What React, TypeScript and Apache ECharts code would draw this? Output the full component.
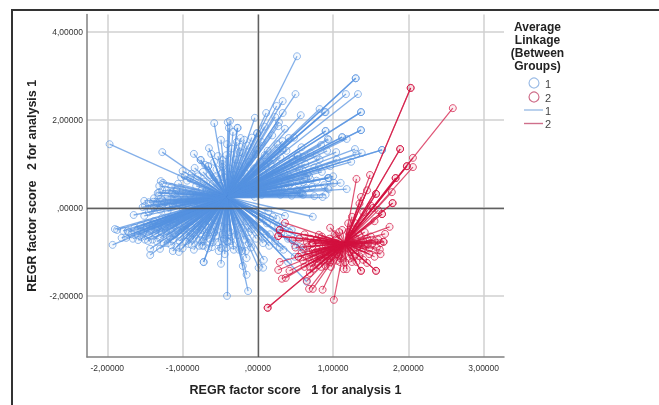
import React, { useEffect, useRef } from "react";
import * as echarts from "echarts";

const xTicks = [-2, -1, 0, 1, 2, 3];
const yTicks = [-2, 0, 2, 4];
const xTitle = "REGR factor score   1 for analysis 1";
const yTitle = "REGR factor score   2 for analysis 1";
const legendTitle = ["Average", "Linkage", "(Between", "Groups)"];

const centre1: number[] = [-0.41, 0.25];
const centre2: number[] = [1.155, -0.8];

const blueOuterLeft = [
  [-1.97,1.45],[-1.27,1.27],[-0.85,1.23],[-0.76,1.09],[-0.76,1.09],[-0.84,0.91],[-0.66,0.95],[-0.66,0.95],[-0.73,0.82],[-0.65,1.36],[-0.62,1.23],[-0.53,1.18],
  [-0.58,1.93],[-0.49,1.55],[-0.40,1.95],[-0.37,1.98],[-0.385,1.82],[-0.33,1.73],[-0.27,1.82],[-0.27,1.82],[-0.23,1.59],[-0.18,1.55],[-0.41,1.45],[-0.04,2.05],
  [-0.01,1.70],[-0.01,1.70],[-0.01,1.32],[-0.24,1.39],[-0.47,1.09],[-0.47,0.93],[-0.47,0.80],[-0.24,1.27],[-1.0,0.84],[-1.02,0.70],[-0.97,0.73],[-0.90,0.68],
  [-1.29,0.61],[-1.26,0.57],[-1.31,0.50],[-1.33,0.34],[-1.31,0.36],[-1.21,0.41],[-1.14,0.36],[-1.08,0.41],[-1.51,0.16],[-1.39,0.14],[-1.27,0.18],[-1.53,0.02],[-1.34,0.11],
];
const blueOuterRight = [
  [0.52,3.45],[0.50,2.59],[0.33,2.43],[0.25,2.32],[0.11,2.16],[0.33,2.16],[0.23,2.07],[0.57,2.11],[0.28,1.95],[0.27,1.86],[0.36,1.80],[0.41,1.59],[0.33,1.52],[0.33,1.36],
  [0.09,1.20],[0.20,1.09],[0.82,2.25],[0.90,2.18],[0.90,1.75],[0.90,1.75],[0.93,1.57],[0.84,1.43],[0.78,1.18],[0.53,1.18],[0.57,0.34],[0.57,0.34],[0.55,0.34],[0.59,0.34],[0.86,0.25],[0.93,0.45],
  [0.62,0.68],[0.68,0.73],[0.41,0.52],[0.93,0.68],[-0.04,0.25],[1.30,2.95],[1.30,2.95],[1.17,2.59],[1.33,2.59],[1.37,2.18],[1.37,2.18],[1.37,1.77],[1.37,1.77],[0.89,2.18],[0.94,1.55],[1.12,1.61],[1.12,1.61],
  [1.18,1.57],[1.04,1.27],[1.29,1.34],[1.31,1.23],[1.38,1.25],[1.65,1.32],[1.65,1.32],[1.24,1.05],[0.94,0.68],[0.94,0.68],[0.64,0.68],[1.01,0.57],[1.10,0.57],[1.18,0.43],[0.94,0.43],[0.29,0.68],[0.36,0.57],[0.33,1.32],[0.81,0.93],[0.60,1.16],[0.53,1.20],
];
const blueLowerRight = [
  [0.73,-0.20],[0.36,-0.18],[-0.41,-2.0],[-0.13,-1.89],[-0.15,-1.52],[-0.20,-1.32],[-0.15,-1.14],[-0.49,-1.27],[-0.72,-1.23],[-0.72,-1.23],[0.01,-1.36],[0.07,-1.36],[0.08,-1.18],
  [-0.49,-0.91],[-0.42,-0.91],[-0.32,-0.95],[-0.21,-0.98],[-0.16,-0.98],[-0.08,-0.48],[0.15,-0.86],[0.29,-0.89],[0.09,-0.68],[0.40,-1.23],[0.65,-1.68],[0.56,-0.89],[0.61,-0.95],[0.49,-1.11],[-0.12,-0.80],
];
const blueLowerLeft = [
  [-1.93,-0.84],[-1.90,-0.48],[-1.87,-0.50],[-1.81,-0.68],[-1.75,-0.68],[-1.79,-0.52],[-1.73,-0.52],[-1.65,-0.16],[-1.51,-0.18],[-1.66,-0.70],[-1.59,-0.73],[-1.43,-0.93],[-1.43,-1.07],[-1.30,-0.93],
  [-1.13,-0.98],[-1.05,-1.0],[-1.20,-0.80],[-1.08,-0.89],[-0.88,-0.84],[-0.78,-0.86],[-0.74,-0.86],[-0.72,-0.86],[-0.61,-0.89],[-0.41,-0.75],[-0.36,-0.75],[-1.46,-0.75],[-1.34,-0.77],[-1.0,-0.50],[-0.90,-0.66],[-0.81,-0.50],[-0.68,-0.57],[-0.64,-0.70],[-0.40,-0.77],
];
const blueFanLow = [
  [-1.72,-0.55],[-1.68,-0.6],[-1.64,-0.45],[-1.6,-0.62],[-1.56,-0.4],[-1.55,-0.66],[-1.52,-0.55],[-1.5,-0.72],[-1.47,-0.35],[-1.45,-0.62],[-1.42,-0.5],[-1.4,-0.72],[-1.38,-0.3],[-1.36,-0.58],[-1.33,-0.44],[-1.3,-0.68],[-1.27,-0.22],[-1.25,-0.8],[-1.22,-0.52],[-1.2,-0.3],
  [-1.17,-0.66],[-1.15,-0.85],[-1.12,-0.4],[-1.1,-0.6],[-1.07,-0.2],[-1.04,-0.75],[-1.0,-0.92],[-0.97,-0.35],[-0.95,-0.62],[-0.92,-0.82],[-0.88,-0.45],[-0.85,-0.95],[-0.82,-0.7],[-0.78,-0.25],[-0.76,-0.58],[-0.72,-0.75],[-0.7,-0.38],[-0.66,-0.92],[-0.63,-0.5],[-0.6,-0.78],
  [-0.57,-0.28],[-0.55,-0.63],[-0.52,-0.98],[-0.48,-0.42],[-0.45,-0.7],[-0.44,-1.05],[-0.37,-0.55],[-0.33,-0.85],[-0.3,-0.3],[-0.27,-0.62],[-0.25,-0.95],[-0.22,-0.45],[-0.18,-0.72],[-0.15,-0.3],[-0.12,-0.55],[-0.09,-0.9],[-0.05,-0.38],[-0.02,-0.7],[0.02,-0.25],[0.04,-0.52],
  [0.07,-0.8],[0.12,-0.35],[0.16,-0.6],[0.2,-0.2],[0.23,-0.75],[0.27,-0.42],[0.31,-0.58],[0.34,-0.95],[0.4,-0.7],[0.45,-0.5],[0.49,-0.85],[0.53,-0.65],
];
const blueFanLeft = [
  [-1.5,0.05],[-1.45,0.13],[-1.42,-0.05],[-1.38,0.22],[-1.35,0.06],[-1.32,0.28],[-1.3,-0.04],[-1.27,0.4],[-1.24,0.12],[-1.2,0.26],[-1.18,0.03],[-1.15,0.48],[-1.12,0.16],[-1.1,0.32],[-1.06,0.55],[-1.04,0.08],[-1,0.4],[-0.97,0.2],[-0.94,0.62],[-0.9,0.3],
  [-0.88,0.78],[-0.85,0.1],[-0.82,0.5],[-0.8,0.72],[-0.77,0.24],[-0.72,0.6],[-0.7,0.98],[-0.68,0.4],[-0.64,0.75],[-0.6,0.55],[-0.58,1.05],[-0.55,0.88],[-0.52,0.65],[-0.47,1.0],[-0.45,0.7],[-0.42,1.2],[-0.38,0.9],[-0.35,1.35],[-0.32,0.75],[-0.3,1.1],
  [-0.28,1.5],[-0.25,0.95],[-0.2,1.25],[-0.17,0.8],[-0.14,1.42],[-0.12,1.05],[-0.08,1.6],[-0.05,0.9],[-0.03,1.22],
];
const blueFanRight = [
  [0.02,0.6],[0.03,1.05],[0.05,1.5],[0.07,0.8],[0.09,1.85],[0.1,0.55],[0.13,1.3],[0.15,0.7],[0.17,1.0],[0.19,1.65],[0.21,0.5],[0.24,0.85],[0.26,1.45],[0.28,0.62],[0.3,1.15],[0.32,0.42],[0.35,0.78],[0.38,1.3],[0.4,0.95],[0.43,0.55],
  [0.46,1.1],[0.48,1.6],[0.5,0.7],[0.52,0.4],[0.55,0.88],[0.58,1.38],[0.6,0.58],[0.63,1.0],[0.66,0.78],[0.7,1.25],[0.72,0.48],[0.75,0.92],[0.78,0.62],[0.82,1.1],[0.85,0.82],[0.88,0.52],[0.92,1.3],[0.96,0.95],[1.0,0.72],[1.05,1.1],
  [0.15,0.35],[0.3,0.3],[0.45,0.28],[0.6,0.3],[0.75,0.27],[0.9,0.3],[0.05,0.3],
];
const blueDenseBand = [
  [-1.6,-0.5],[-1.55,-0.52],[-1.48,-0.46],[-1.44,-0.4],[-1.4,-0.36],[-1.35,-0.5],[-1.31,-0.36],[-1.28,-0.55],[-1.24,-0.42],[-1.21,-0.62],[-1.18,-0.25],[-1.16,-0.48],[-1.13,-0.72],[-1.09,-0.34],[-1.06,-0.52],[-1.03,-0.66],[-1.01,-0.14],[-0.98,-0.46],[-0.96,-0.76],[-0.93,-0.28],
  [-0.9,-0.54],[-0.87,-0.72],[-0.84,-0.2],[-0.8,-0.42],[-0.77,-0.74],[-0.74,-0.5],[-0.69,-0.64],[-0.65,-0.3],[-0.58,-0.55],[-0.53,-0.78],[-0.47,-0.6],[-0.41,-0.45],[-0.35,-0.65],[-1.45,-0.1],[-1.38,0.02],[-1.28,0.08],[-1.2,-0.08],[-1.13,0.08],[-1.07,0.22],[-1.0,0.0],
  [-0.93,0.12],[-0.87,0.34],[-0.8,0.02],[-0.74,0.42],[-0.7,0.14],[-0.63,0.36],[-0.57,0.7],[-0.5,0.5],[-0.3,0.55],[-0.22,0.6],[-0.12,0.62],[-0.06,0.7],[0.0,0.45],[0.08,0.45],[0.18,0.6],[0.26,0.5],[0.36,0.45],[0.44,0.7],[0.54,0.55],[0.64,0.45],
  [0.3,0.85],[0.2,0.75],[0.4,0.75],[0.1,0.95],[0.5,0.95],[0.6,0.85],[0.7,0.65],[-0.05,-0.1],[0.05,-0.2],[0.14,-0.08],[0.25,-0.25],[0.33,-0.4],[0.42,-0.55],
];
const redOuter = [
  [2.03,2.73],[2.03,2.73],[2.59,2.27],[1.89,1.34],[1.89,1.34],[2.06,1.14],[1.98,0.95],[1.98,0.95],[2.06,0.93],[1.83,0.68],[1.83,0.68],[1.78,0.36],[1.79,0.11],[1.79,0.11],[1.65,-0.14],[1.65,-0.14],[1.57,0.32],[1.57,0.32],[1.53,0],[1.49,0.75],[1.31,0.66],[1.37,0.25],
  [1.75,-0.43],[1.69,-0.59],[1.67,-0.77],[1.67,-0.77],[1.42,-0.55],[1.62,-0.95],[1.63,-1.05],[1.57,-1.43],[1.57,-1.43],[1.37,-1.43],[1.37,-1.43],[1.55,-1.11],[1.45,-1.25],[1.18,-1.39],[1.14,-1.39],[1.01,-2.09],[0.86,-1.86],[0.73,-1.84],[0.68,-1.84],[0.65,-1.66],
  [0.13,-2.27],[0.13,-2.27],[0.27,-1.41],[0.29,-1.23],[0.32,-1.61],[0.37,-1.59],[0.42,-1.43],[0.69,-1.48],[0.62,-1.34],[0.69,-1.34],[0.84,-1.34],[0.97,-1.34],[0.96,-0.45],[1.04,-0.64],[0.81,-0.61],[0.36,-0.34],[0.29,-0.50],[0.29,-0.50],[0.27,-0.64],[0.27,-0.64],[0.46,-0.73],
  [0.65,-0.77],[0.73,-0.80],[0.73,-0.95],[0.65,-1.11],[0.54,-1.11],[0.54,-1.11],[0.96,-1.23],[1.09,-1.23],[1.16,-1.23],[1.25,-1.23],[1.31,-1.23],
];
const redFan = [
  [0.55,-0.7],[0.6,-0.9],[0.62,-0.6],[0.68,-1.0],[0.7,-0.7],[0.75,-1.15],[0.78,-0.72],[0.8,-0.95],[0.82,-1.05],[0.85,-0.65],[0.88,-1.2],[0.9,-0.85],[0.92,-1.0],[0.95,-0.7],[0.98,-1.1],[1.0,-0.9],[1.02,-0.6],[1.05,-1.05],[1.08,-0.55],[1.1,-1.15],
  [1.12,-0.5],[1.2,-0.55],[1.22,-1.0],[1.25,-0.6],[1.28,-1.1],[1.3,-0.7],[1.32,-0.9],[1.35,-0.62],[1.38,-1.0],[1.4,-0.75],[1.42,-0.85],[1.45,-0.7],[1.48,-0.92],[1.5,-0.65],[1.52,-0.82],[1.55,-0.75],[1.58,-0.9],[1.6,-0.72],[1.63,-0.8],
  [1.45,0.4],[1.5,0.05],[1.6,-0.05],[1.35,0.1],[1.4,-0.1],[1.25,-0.2],[1.3,-0.35],[1.55,-0.3],[1.2,-0.35],[0.72,-1.25],[0.8,-1.3],[0.92,-1.2],[0.5,-0.9],[0.58,-1.02],[1.1,-1.05],[1.35,-1.1],[1.48,-1.05],
];
const redDense = [
  [0.66,-0.88],[0.72,-0.82],[0.76,-1.02],[0.8,-0.78],[0.84,-1.12],[0.86,-0.92],[0.88,-0.74],[0.9,-1.08],[0.93,-0.88],[0.95,-1.15],[0.97,-0.82],[1.0,-1.0],[1.03,-0.72],[1.06,-0.95],[1.08,-1.1],[1.12,-0.92],[1.2,-0.92],[1.24,-0.78],[1.27,-0.95],[1.34,-0.82],
  [1.4,-0.92],[1.46,-0.82],[0.74,-1.38],[0.82,-1.18],[0.9,-1.32],[0.6,-1.2],[0.68,-1.12],[0.78,-1.22],[1.05,-1.2],[1.22,-1.15],[1.3,-1.05],[1.4,-1.18],
];

const group1 = [...blueOuterLeft, ...blueOuterRight, ...blueLowerRight, ...blueLowerLeft, ...blueFanLow, ...blueFanLeft, ...blueFanRight, ...blueDenseBand];
const group2 = [...redOuter, ...redFan, ...redDense];

const BLUE = "#5592e0";
const RED = "#d2103f";
const FONT = "'Liberation Sans', Arial, sans-serif";

const tickLabel = (v: number) => (v === 0 ? ",00000" : v + ",00000");

const spokes = (name: string, centre: number[], pts: number[][], color: string, z: number, width: number) => ({
  type: "lines",
  name,
  coordinateSystem: "cartesian2d",
  polyline: false,
  silent: true,
  z,
  lineStyle: { color, width, opacity: 0.72, curveness: 0 },
  data: pts.map((p) => ({ coords: [centre, p] })),
});
const rings = (name: string, pts: number[][], color: string, z: number, opacity: number) => ({
  type: "scatter",
  name,
  symbol: "circle",
  symbolSize: 7,
  silent: true,
  z,
  itemStyle: { color: color + "18", borderColor: color, borderWidth: 1, opacity },
  data: pts,
});

export default function App() {
  const ref = useRef<HTMLDivElement>(null);
  useEffect(() => {
    const chart = echarts.init(ref.current!, null, { renderer: "svg" });
    const text = (x: number, y: number, t: string, size: number, weight: string, color: string, align = "left") => ({
      type: "text",
      x,
      y,
      z: 50,
      style: { text: t, fontSize: size, fontWeight: weight, fill: color, fontFamily: FONT, align, verticalAlign: "middle" },
    });
    const seg = (x1: number, y1: number, x2: number, y2: number, stroke: string, lineWidth: number) => ({
      type: "line",
      z: 50,
      shape: { x1, y1, x2, y2 },
      style: { stroke, lineWidth },
    });
    chart.setOption({
      animation: false,
      backgroundColor: "#ffffff",
      textStyle: { fontFamily: FONT },
      grid: { left: 87, top: 14.5, width: 417, height: 342.5 },
      xAxis: {
        type: "value",
        min: -2.27,
        max: 3.27,
        name: xTitle,
        nameLocation: "center",
        nameGap: 26,
        nameTextStyle: { fontSize: 12.5, fontWeight: "bold", color: "#222", fontFamily: FONT },
        axisLine: { onZero: false, lineStyle: { color: "#808080", width: 1.5 } },
        axisTick: { show: false, customValues: xTicks },
        axisLabel: { customValues: xTicks, formatter: tickLabel, fontSize: 8.5, color: "#333", margin: 6, fontFamily: FONT },
        splitLine: { show: true, lineStyle: { color: "#d0d0d0", width: 1.5 } },
      },
      yAxis: {
        type: "value",
        min: -3.39,
        max: 4.4,
        name: yTitle,
        nameLocation: "center",
        nameGap: 49,
        nameTextStyle: { fontSize: 12.5, fontWeight: "bold", color: "#222", fontFamily: FONT },
        axisLine: { onZero: false, lineStyle: { color: "#808080", width: 1.5 } },
        axisTick: { show: false, customValues: yTicks },
        axisLabel: { customValues: yTicks, formatter: tickLabel, fontSize: 8.5, color: "#333", margin: 4, fontFamily: FONT },
        splitLine: { show: true, lineStyle: { color: "#d0d0d0", width: 1.5 } },
      },
      series: [
        spokes("Lines 1", centre1, group1, BLUE, 3, 1.3),
        rings("1", group1, BLUE, 4, 0.62),
        spokes("Lines 2", centre2, group2, RED, 5, 1.2),
        rings("2", group2, RED, 6, 0.7),
        {
          type: "scatter",
          name: "Reference",
          data: [],
          z: 8,
          markLine: {
            silent: true,
            symbol: "none",
            label: { show: false },
            lineStyle: { color: "#4a4a4a", width: 1.4, type: "solid", opacity: 0.85 },
            data: [{ xAxis: 0 }, { yAxis: 0 }],
          },
        },
      ],
      graphic: [
        seg(11, 10, 659, 10, "#333333", 2),
        seg(12, 9, 12, 405, "#333333", 2),
        ...legendTitle.map((t, i) => text(537.5, 27 + i * 12.9, t, 12, "bold", "#222", "center")),
        { type: "circle", z: 50, shape: { cx: 534, cy: 83, r: 5 }, style: { fill: "none", stroke: "#9dbde6", lineWidth: 1.2 } },
        { type: "circle", z: 50, shape: { cx: 534, cy: 97, r: 5 }, style: { fill: "none", stroke: "#cf6f8b", lineWidth: 1.2 } },
        seg(524, 110, 543, 110, "#9dbde6", 1.4),
        seg(524, 123.5, 543, 123.5, "#cf6f8b", 1.4),
        text(545, 84, "1", 11, "normal", "#444"),
        text(545, 97.5, "2", 11, "normal", "#444"),
        text(545, 110.5, "1", 11, "normal", "#444"),
        text(545, 124, "2", 11, "normal", "#444"),
      ],
    });
    return () => chart.dispose();
  }, []);
  return <div ref={ref} style={{ position: "fixed", left: 0, top: 0, width: 659, height: 405, filter: "blur(0.35px)" }} />;
}
